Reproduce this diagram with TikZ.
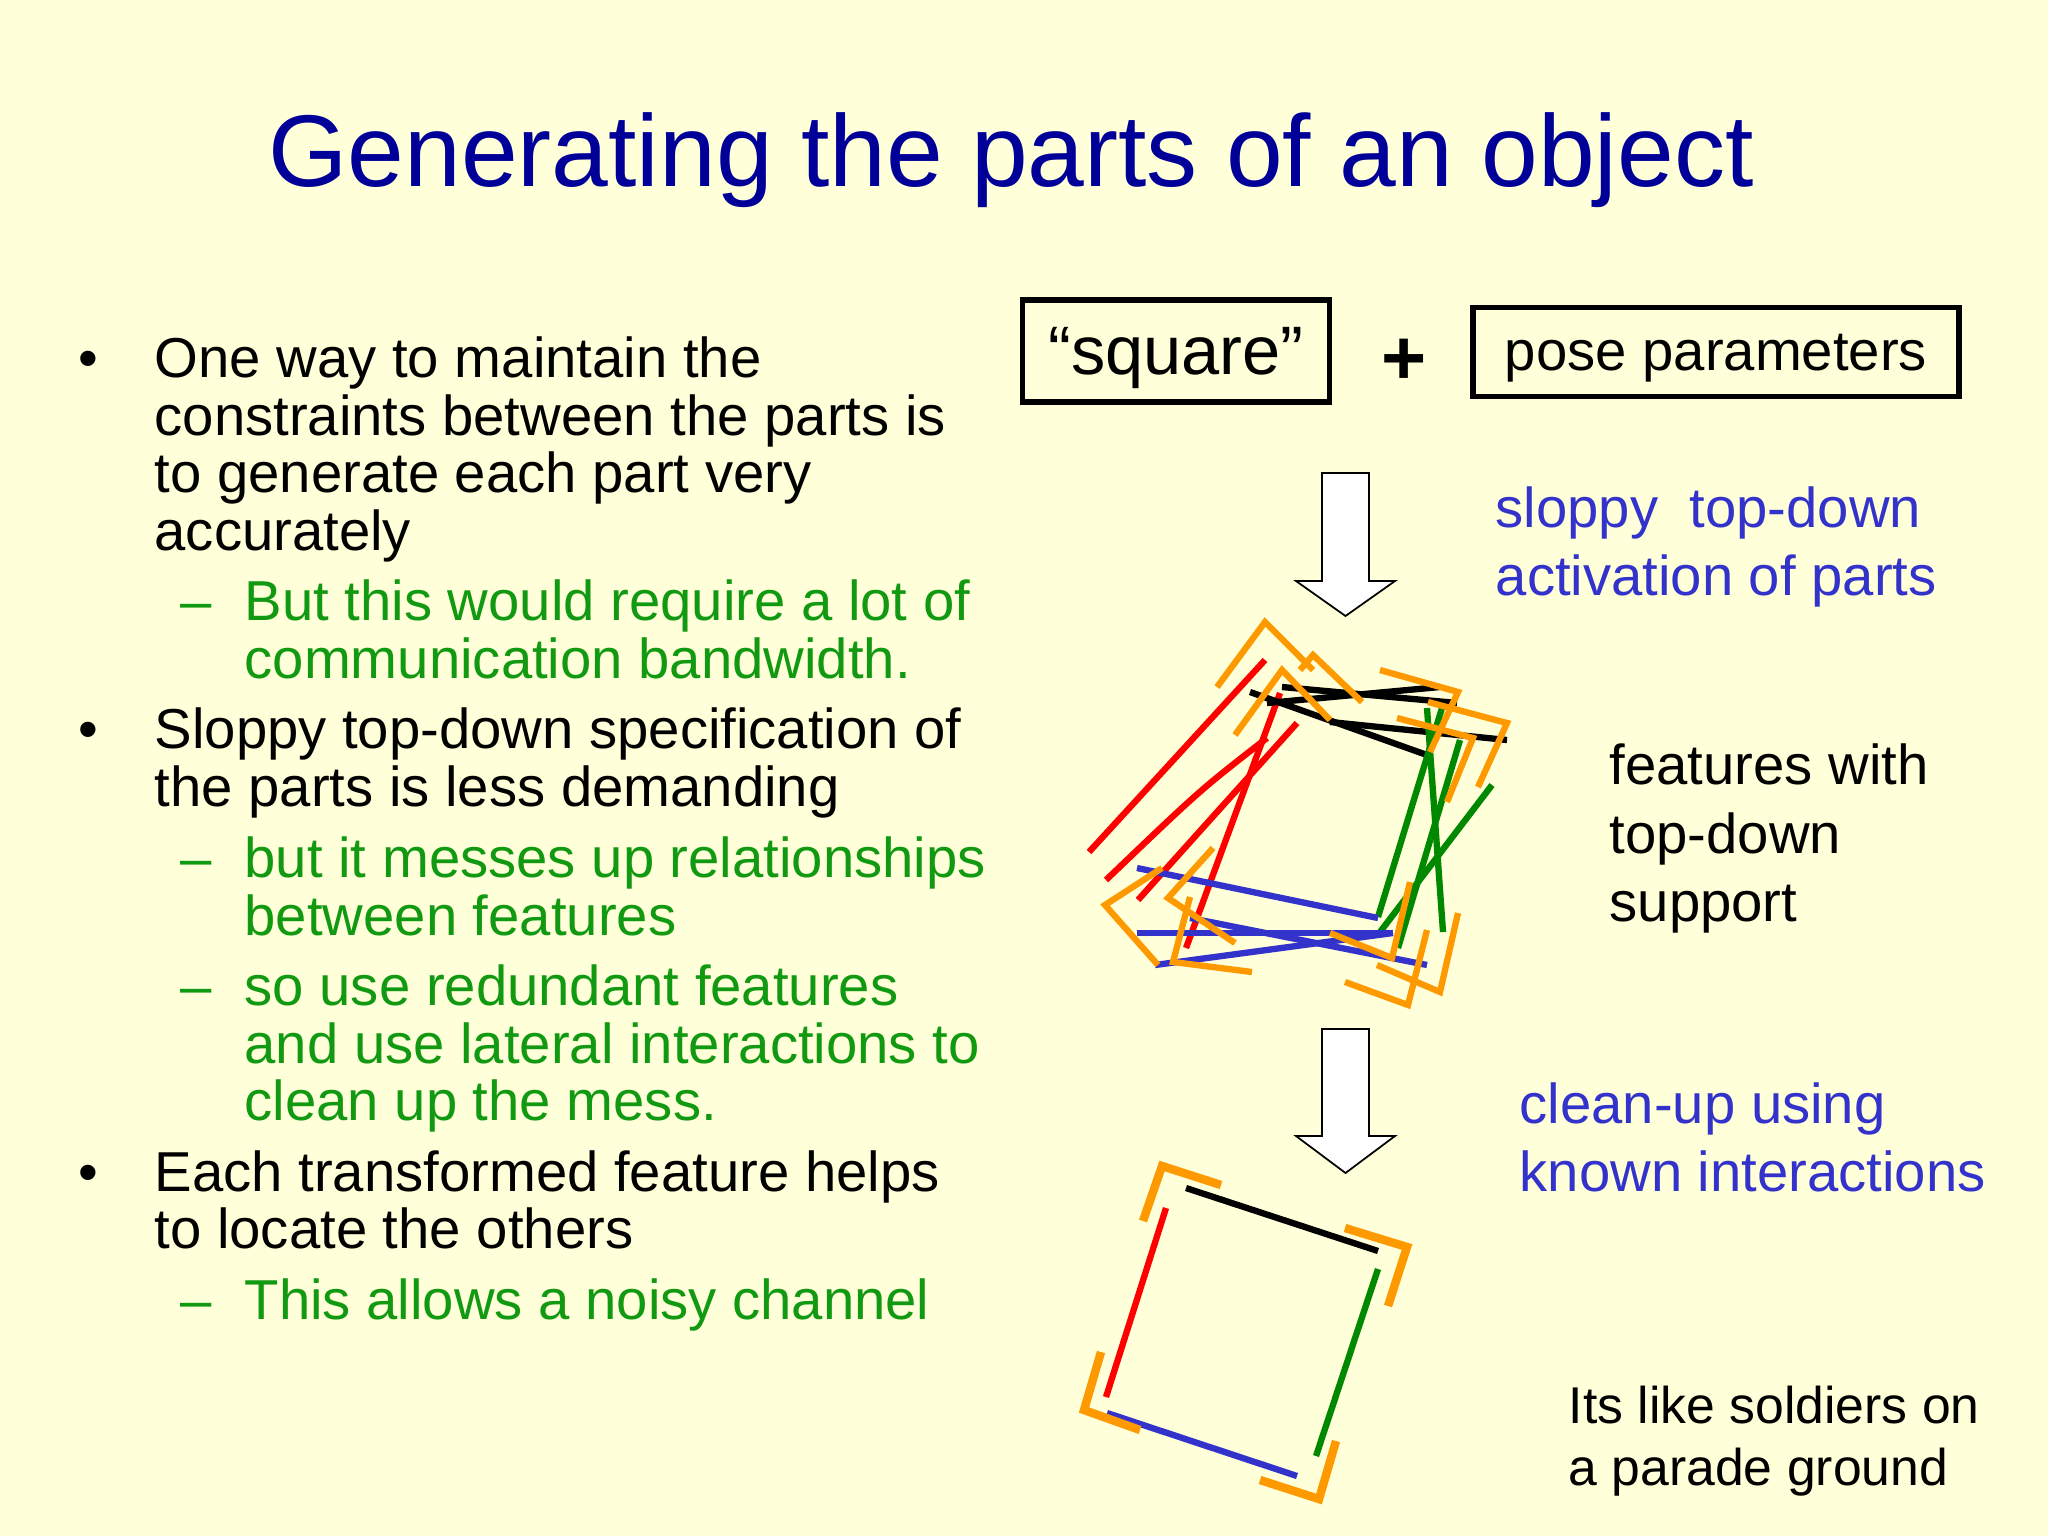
\documentclass[tikz,border=0pt]{standalone}
\usepackage{fontspec}
\setmainfont{Liberation Sans}
\definecolor{bg}{HTML}{FFFFD9}
\definecolor{navy}{HTML}{000099}
\definecolor{tgreen}{HTML}{119911}
\definecolor{tblue}{HTML}{3333CC}
\definecolor{lorange}{HTML}{FF9900}
\definecolor{lred}{HTML}{FF0000}
\definecolor{lgreen}{HTML}{008800}
\definecolor{lblue}{HTML}{3333CC}
\tikzset{
 body/.style={anchor=mid west,inner sep=0pt,font=\fontsize{16}{19}\selectfont},
 seg/.style={line width=1.8pt},
 corner/.style={line width=1.8pt,draw=lorange},
 blockarrow/.style={draw=black,fill=white,line width=0.5pt},
 lbl/.style={draw,line width=1.6pt,inner sep=0pt,text depth=0pt}
}
\begin{document}
\begin{tikzpicture}[x=0.01cm,y=-0.01cm]
\fill[bg] (0,0) rectangle (2048,1536);
\useasboundingbox (0,0) rectangle (2048,1536);
\node[navy,font=\fontsize{29}{34}\selectfont] (title) at (1011,160) {Generating the parts of an object};
% left text
\foreach \y/\t/\n in {368/One way to maintain the/a1,426/constraints between the parts is/a2,483/to generate each part very/a3,541/accurately/a4,739/Sloppy top-down specification of/c1,797/the parts is less demanding/c2,1182/Each transformed feature helps/e1,1239/to locate the others/e2}
  \node[body] (\n) at (154,\y) {\t};
\foreach \y/\n in {368/bu1,739/bu2,1182/bu3}
  \node[body] (\n) at (78,\y) {•};
\foreach \y/\t/\n in {611/But this would require a lot of/b1,669/communication bandwidth./b2,868/but it messes up relationships/d1,926/between features/d2,996/so use redundant features/f1,1054/and use lateral interactions to/f2,1111/clean up the mess./f3,1310/This allows a noisy channel/g1}
  \node[body,tgreen] (\n) at (244,\y) {\t};
\foreach \y/\n in {611/da1,868/da2,996/da3,1310/da4}
  \node[body,tgreen] (\n) at (180,\y) {–};
% boxes
\node[lbl,minimum width=3.07cm,minimum height=1.02cm,font=\fontsize{19.5}{22}\selectfont] (sq) at (1176,351) {“square”};
\node[font=\fontsize{22}{24}\selectfont] (plus) at (1404,362) {\textbf{+}};
\node[lbl,minimum width=4.86cm,minimum height=0.89cm,font=\fontsize{16}{19}\selectfont] (pose) at (1716,352) {pose parameters};
% right text
\node[body,tblue] (r1) at (1495,518) {sloppy\ \ top-down};
\node[body,tblue] (r2) at (1495,586) {activation of parts};
\node[body] (r3) at (1609,775) {features with};
\node[body] (r4) at (1609,844) {top-down};
\node[body] (r5) at (1609,912) {support};
\node[body,tblue] (r6) at (1519,1114) {clean-up using};
\node[body,tblue] (r7) at (1519,1182) {known interactions};
\node[body,font=\fontsize{14.7}{18}\selectfont] (r8) at (1568,1414) {Its like soldiers on};
\node[body,font=\fontsize{14.7}{18}\selectfont] (r9) at (1568,1476) {a parade ground};
% block arrows
\draw[blockarrow] (1322,473) -- (1369,473) -- (1369,581) -- (1395,581) -- (1345.5,616) -- (1296,581) -- (1322,581) -- cycle;
\draw[blockarrow] (1322,1029) -- (1369,1029) -- (1369,1136) -- (1395,1136) -- (1345.5,1173) -- (1296,1136) -- (1322,1136) -- cycle;
% messy square
\begin{scope}[seg]
\draw[lred] (1265,660)--(1089,852);
\draw[lred] (1267,738) .. controls (1200,790) .. (1106,880);
\draw[lred] (1297,723)--(1138,900);
\draw[lred] (1280,693)--(1186,948);
\draw (1250,692)--(1427,755);
\draw (1282,687)--(1457,703);
\draw (1267,703)--(1440,687);
\draw (1330,722)--(1507,740);
\draw[lgreen] (1427,708)--(1443,932);
\draw[lgreen] (1442,708)--(1378,917);
\draw[lgreen] (1460,740)--(1398,948);
\draw[lgreen] (1492,785)--(1380,932);
\draw[lblue] (1137,868)--(1378,918);
\draw[lblue] (1137,933)--(1393,933);
\draw[lblue] (1155,965)--(1393,933);
\draw[lblue] (1190,918)--(1427,965);
\end{scope}
\begin{scope}[corner]
\draw (1217,687)--(1265,622)--(1313,670);
\draw (1300,670)--(1313,655)--(1362,702);
\draw (1235,735)--(1282,670)--(1330,720);
\draw (1380,670)--(1458,692)--(1430,752);
\draw (1428,702)--(1507,723)--(1478,787);
\draw (1397,718)--(1473,738)--(1447,802);
\draw (1162,868)--(1105,905)--(1158,965);
\draw (1213,848)--(1168,898)--(1235,943);
\draw (1190,897)--(1173,962)--(1252,972);
\draw (1410,882)--(1392,958)--(1330,933);
\draw (1458,913)--(1440,992)--(1377,965);
\draw (1427,930)--(1408,1005)--(1345,982);
\end{scope}
% clean square
\begin{scope}[seg]
\draw (1186,1188)--(1378,1251);
\draw[lred] (1166,1208)--(1106,1397);
\draw[lgreen] (1378,1269)--(1316,1456);
\draw[lblue] (1107,1413)--(1297,1476);
\end{scope}
\begin{scope}[corner,line width=2.4pt]
\draw (1143,1221)--(1162,1166)--(1221,1185);
\draw (1345,1228)--(1407,1247)--(1388,1306);
\draw (1101,1352)--(1084,1410)--(1140,1430);
\draw (1260,1480)--(1319,1499)--(1336,1441);
\end{scope}
\end{tikzpicture}
\end{document}
